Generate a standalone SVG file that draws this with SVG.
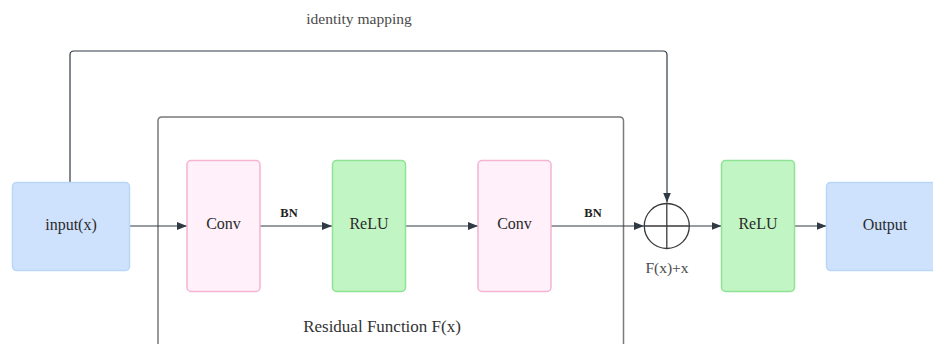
<svg xmlns="http://www.w3.org/2000/svg" width="933" height="344" viewBox="0 0 933 344">
  <defs>
    <marker id="arrow" viewBox="0 0 10 8" refX="10" refY="4" markerWidth="10" markerHeight="8" markerUnits="userSpaceOnUse" orient="auto">
      <path d="M0,0 L10,4 L0,8 Z" fill="#2f3a45"/>
    </marker>
    <style>
      .frame { fill: none; stroke: #7a7a7a; stroke-width: 1.5; }
      .edge { fill: none; stroke: #2f3a45; stroke-width: 1.2; marker-end: url(#arrow); }
      .io { fill: #cfe2fd; stroke: #b9d5f8; stroke-width: 1.5; }
      .conv { fill: #fff0fa; stroke: #f4b4d2; stroke-width: 1.5; }
      .relu { fill: #c2f5c4; stroke: #8fe395; stroke-width: 1.5; }
      .label { font-family: "Liberation Serif", "DejaVu Serif", serif; font-size: 16px; fill: #2b2b2b; text-anchor: middle; dominant-baseline: central; }
      .note { font-family: "Liberation Serif", "DejaVu Serif", serif; font-size: 15px; fill: #4a4a4a; text-anchor: middle; }
      .bn { font-family: "Liberation Serif", "DejaVu Serif", serif; font-size: 12.5px; font-weight: bold; fill: #1e1e1e; text-anchor: middle; }
    </style>
  </defs>

  <rect width="933" height="344" fill="#ffffff"/>

  <!-- Residual function container (runs past the bottom edge) -->
  <g id="residual-block">
    <path class="frame" d="M158,360 V121 Q158,117 162,117 H619.5 Q623.5,117 623.5,121 V360"/>
    <text class="note" x="382" y="332" style="font-size:17px;fill:#333">Residual Function F(x)</text>
  </g>

  <text class="note" x="359" y="24" style="font-size:15.5px">identity mapping</text>

  <!-- Connectors -->
  <g id="connectors">
    <path class="edge" d="M70,182 V55 Q70,51 74,51 H663 Q667,51 667,55 V202.5"/>
    <path class="edge" d="M129,226 H187"/>
    <path class="edge" d="M260,226 H332"/>
    <path class="edge" d="M405.5,226 H478"/>
    <path class="edge" d="M551,226 H644"/>
    <path class="edge" d="M689.5,226 H721.5"/>
    <path class="edge" d="M794.5,226 H826.5"/>
    <text class="bn" x="289" y="217">BN</text>
    <text class="bn" x="593" y="217">BN</text>
  </g>

  <g id="input">
    <rect class="io" x="12.5" y="182.5" width="117" height="88" rx="4"/>
    <text class="label" x="71" y="224">input(x)</text>
  </g>

  <g id="conv1">
    <rect class="conv" x="187" y="160.5" width="73" height="131" rx="4"/>
    <text class="label" x="223.5" y="223">Conv</text>
  </g>

  <g id="relu1">
    <rect class="relu" x="332.5" y="160.5" width="73" height="131" rx="4"/>
    <text class="label" x="369" y="223">ReLU</text>
  </g>

  <g id="conv2">
    <rect class="conv" x="478" y="160.5" width="73" height="131" rx="4"/>
    <text class="label" x="514.5" y="223">Conv</text>
  </g>

  <g id="sum">
    <circle cx="666.8" cy="226" r="22.5" fill="none" stroke="#3a3a3a" stroke-width="1.3"/>
    <path d="M644.3,226 H689.3 M666.8,203.5 V248.5" stroke="#3a3a3a" stroke-width="1.3"/>
    <text class="note" x="667" y="273" style="font-size:15.5px">F(x)+x</text>
  </g>

  <g id="relu2">
    <rect class="relu" x="721.5" y="160.5" width="73" height="131" rx="4"/>
    <text class="label" x="758" y="223">ReLU</text>
  </g>

  <g id="output">
    <rect class="io" x="826.5" y="182.5" width="117" height="88" rx="4"/>
    <text class="label" x="885" y="224">Output</text>
  </g>
</svg>
